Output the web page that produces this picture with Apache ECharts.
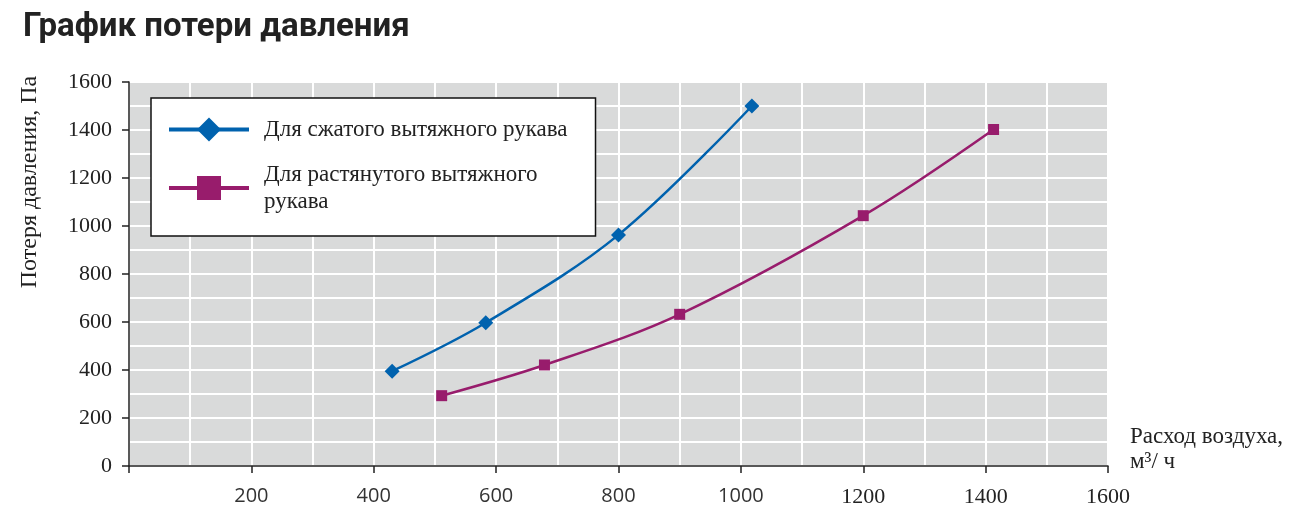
<!DOCTYPE html>
<html>
<head>
<meta charset="utf-8">
<script src="https://cdn.jsdelivr.net/npm/echarts@6/dist/echarts.min.js"></script>
<style>
  html, body { margin: 0; padding: 0; background: #fff; }
  #chart { width: 1309px; height: 528px; }
</style>
</head>
<body>
<div id="chart"></div>
<script>
// данные
var seriesNames = ['Для сжатого вытяжного рукава', 'Для растянутого вытяжного рукава'];
var compressedFlow = [430, 583, 800, 1018];
var compressedLoss = [395, 597, 963, 1500];
var stretchedFlow = [511, 679, 900, 1200, 1413];
var stretchedLoss = [293, 421, 632, 1043, 1402];

var pairs = function (xs, ys) {
    var res = [];
    for (var i = 0; i < xs.length; i++) {
        res.push([xs[i], ys[i]]);
    }
    return res;
};

var serif = 'Liberation Serif';
var blue = '#0062ae';
var purple = '#981c6c';

// подписи оси X: до 1000 гротеском, дальше антиквой (как в исходнике)
var xAxisBase = {
    type: 'value',
    min: 0,
    max: 1600,
    interval: 200,
    position: 'bottom',
    axisLine: { onZero: false, lineStyle: { color: '#222', width: 1.5 } },
    axisTick: { show: true, length: 7, lineStyle: { color: '#222', width: 1.5 } },
    splitLine: { show: false }
};

var option = {
    backgroundColor: '#fff',
    animation: false,
    title: {
        text: 'График потери давления',
        left: 18,
        top: 6,
        textStyle: {
            fontFamily: 'Roboto',
            fontWeight: 'bold',
            fontSize: 33,
            color: '#222'
        }
    },
    grid: {
        left: 129,
        right: 201,
        top: 82,
        bottom: 62,
        show: true,
        backgroundColor: '#d9dada',
        borderWidth: 0
    },
    legend: {
        orient: 'vertical',
        left: 151,
        top: 98,
        padding: [18, 28, 21, 16],
        itemGap: 18,
        itemWidth: 80,
        itemHeight: 30,
        backgroundColor: '#fff',
        borderColor: '#111',
        borderWidth: 1.5,
        borderRadius: 0,
        lineStyle: { width: 4 },
        data: seriesNames,
        formatter: function (name) {
            return name === seriesNames[1] ? 'Для растянутого вытяжного\nрукава' : name;
        },
        textStyle: {
            fontFamily: serif,
            fontSize: 23,
            color: '#222',
            lineHeight: 27,
            padding: [0, 0, 0, 10]
        }
    },
    xAxis: [Object.assign({}, xAxisBase, {
        name: 'Расход воздуха,\nм³/ ч',
        nameLocation: 'end',
        nameGap: 22,
        nameTextStyle: {
            fontFamily: serif,
            fontSize: 23,
            color: '#222',
            lineHeight: 25,
            align: 'left',
            verticalAlign: 'bottom',
            padding: [0, 0, -8, 0]
        },
        minorTick: { show: false, splitNumber: 2 },
        splitLine: { show: true, lineStyle: { color: '#fff', width: 2 } },
        minorSplitLine: { show: true, lineStyle: { color: '#fff', width: 2 } },
        axisLabel: {
            margin: 20,
            fontFamily: 'Open Sans',
            fontSize: 20,
            color: '#333',
            formatter: function (v) {
                return (v === 0 || v >= 1200) ? '' : String(v);
            }
        }
    }), Object.assign({}, xAxisBase, {
        axisLine: { show: false },
        axisTick: { show: false },
        axisLabel: {
            margin: 20,
            fontFamily: serif,
            fontSize: 22,
            color: '#222',
            formatter: function (v) {
                return v >= 1200 ? String(v) : '';
            }
        }
    })],
    yAxis: {
        type: 'value',
        min: 0,
        max: 1600,
        interval: 200,
        axisLine: { show: true, lineStyle: { color: '#222', width: 1.5 } },
        axisTick: { show: true, length: 7, lineStyle: { color: '#222', width: 1.5 } },
        minorTick: { show: false, splitNumber: 2 },
        splitLine: { show: true, lineStyle: { color: '#fff', width: 2 } },
        minorSplitLine: { show: true, lineStyle: { color: '#fff', width: 2 } },
        axisLabel: {
            margin: 17,
            fontFamily: serif,
            fontSize: 22,
            color: '#222',
            formatter: function (v) { return String(v); }
        }
    },
    graphic: [{
        type: 'text',
        x: 30,
        y: 182,
        rotation: Math.PI / 2,
        style: {
            text: 'Потеря давления, Па',
            fontFamily: serif,
            fontSize: 24,
            fill: '#222',
            align: 'center',
            verticalAlign: 'middle'
        }
    }],
    series: [{
        name: seriesNames[0],
        type: 'line',
        smooth: 0.35,
        symbol: 'diamond',
        symbolSize: 15,
        itemStyle: { color: blue },
        lineStyle: { color: blue, width: 2.5 },
        data: pairs(compressedFlow, compressedLoss)
    }, {
        name: seriesNames[1],
        type: 'line',
        smooth: 0.35,
        symbol: 'rect',
        symbolSize: 11,
        itemStyle: { color: purple },
        lineStyle: { color: purple, width: 2.5 },
        data: pairs(stretchedFlow, stretchedLoss)
    }]
};

var myChart = echarts.init(document.getElementById('chart'));
myChart.setOption(option);
</script>
</body>
</html>
